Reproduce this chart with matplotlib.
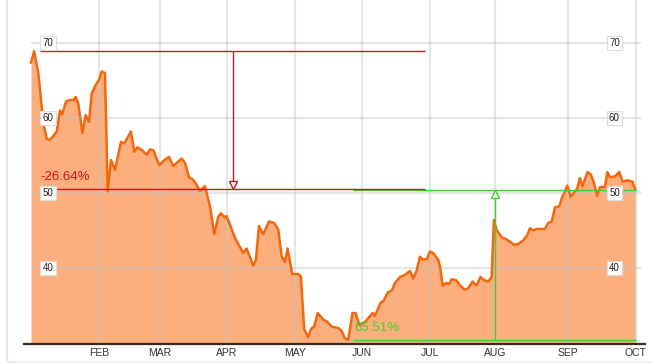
#
########################################################################
# Bibliotecas
########################################################################
#
import matplotlib
matplotlib.use("Agg")
from matplotlib import pyplot as plt
from matplotlib.lines import Line2D

plt.rcParams["font.family"] = ["Liberation Sans", "DejaVu Sans"]

#
########################################################################
# Dados (dia desde 1 de janeiro, preço)
########################################################################
#
Dias = [0, 1.4, 3.3, 5.6, 7.1, 8.6, 10.1, 11.6, 13.1, 14.1, 15.8, 17.6, 19.1,
        20.2, 21.3, 23.2, 24.7, 26.2, 27.4, 29.2, 30.7, 31.9, 33.4, 34.6, 36.1,
        37.9, 40.6, 42.1, 45.1, 46.6, 48.1, 50.2, 52.2, 53.7, 55.2, 57.9, 60.2,
        62.3, 64.2, 68.0, 69.5, 71.3, 73.0, 74.5, 76.3, 78.5, 80.8, 82.7, 84.5,
        85.7, 87.2, 88.3, 92.1, 95.8, 97.3, 100.3, 101.5, 102.9, 104.8, 107.4,
        109.8, 111.6, 113.1, 114.6, 115.8, 117.9, 120.6, 121.8, 123.3, 125.1,
        126.4, 127.8, 129.4, 131.9, 133.4, 135.7, 138.7, 140.2, 141.7, 143.2,
        145.1, 146.5, 148.2, 150.7, 152.7, 154.2, 155.2, 157.8, 159.0, 161.2,
        162.8, 164.3, 166.5, 168.8, 171.0, 172.5, 174.1, 175.5, 177.0, 178.6,
        180.1, 181.5, 183.8, 184.6, 185.8, 187.3, 188.8, 189.8, 191.8, 193.6,
        195.8, 197.3, 199.3, 200.8, 201.4, 202.9, 204.4, 206.4, 207.9, 208.9,
        210.1, 212.4, 214.7, 216.2, 218.0, 219.9, 222.2, 224.0, 225.2, 226.7,
        228.2, 231.9, 233.4, 235.0, 236.5, 238.4, 239.5, 241.0, 242.0, 243.5,
        245.5, 246.5, 247.7, 248.9, 251.2, 252.6, 254.1, 255.5, 256.8, 259.0,
        260.1, 261.3, 263.5, 265.5, 267.0, 269.1, 271.5, 272.7]
Precos = [67.4, 68.9, 66.0, 59.3, 57.2, 57.1, 57.6, 58.2, 61.0, 60.5, 62.2, 62.4,
          62.4, 62.8, 62.0, 58.0, 60.4, 59.5, 63.3, 64.4, 65.1, 66.2, 66.0, 50.2,
          54.4, 53.1, 56.8, 56.6, 58.2, 55.5, 56.1, 55.7, 55.1, 55.8, 55.7, 53.7,
          54.4, 54.8, 53.6, 54.6, 54.0, 52.1, 51.8, 51.2, 50.3, 50.9, 48.2, 44.5,
          46.8, 47.3, 46.8, 46.9, 44.0, 42.0, 42.6, 40.3, 41.1, 45.6, 44.5, 46.2,
          46.0, 45.1, 41.6, 40.8, 42.6, 39.2, 39.2, 38.9, 31.8, 30.8, 31.9, 32.2,
          34.0, 33.1, 32.9, 32.2, 32.0, 31.6, 30.6, 30.45, 34.0, 34.0, 32.4, 32.8,
          33.5, 34.0, 33.6, 35.4, 35.6, 36.8, 37.0, 38.0, 38.8, 39.1, 39.6, 38.6,
          39.7, 41.5, 41.1, 41.2, 42.2, 42.0, 41.1, 40.2, 37.6, 38.0, 37.9, 38.5,
          38.4, 37.7, 37.1, 37.3, 38.2, 37.7, 37.9, 38.8, 38.4, 38.2, 38.8, 46.4,
          45.1, 44.1, 43.8, 43.5, 43.1, 43.2, 43.7, 44.4, 45.3, 45.0, 45.2, 45.2,
          46.0, 46.2, 48.1, 48.2, 49.3, 50.2, 51.0, 49.5, 50.2, 50.6, 52.0, 50.9,
          52.8, 52.5, 51.3, 49.6, 50.8, 50.8, 52.8, 52.1, 52.2, 52.8, 51.5, 51.7,
          51.5, 50.45]

Meses = ["FEB", "MAR", "APR", "MAY", "JUN", "JUL", "AUG", "SEP", "OCT"]
PosMeses = [30.7, 58.2, 88.5, 119.1, 149.4, 180.1, 209.4, 242.3, 273.0]
Niveis = [40, 50, 60, 70]

# anotações de variação
Maximo, NivelQueda, TextoQueda = 68.9, 50.54, "-26.64%"
Minimo, NivelAlta, TextoAlta = 30.35, 50.40, "65.51%"

#
########################################################################
# Figura
########################################################################
#
Grafico = plt.figure(figsize=(6.52, 3.63), dpi=100)
ax = Grafico.add_axes([24 / 652, 19 / 363, 621 / 652, 344 / 363])
ax.set_xlim(-3.16, 277.1)
ax.set_ylim(29.87, 75.73)

CorLinha = "#f2680f"
CorArea = "#fdae7d"
CorVermelho = "#d4141c"
CorVerde = "#3fd12a"

ax.fill_between(Dias, Precos, 29.87, color=CorArea, lw=0, zorder=1)

# grade
for p in PosMeses:
    ax.axvline(p, color="#c6c6c6", lw=1.6, alpha=0.45, zorder=2)
for n in Niveis:
    ax.axhline(n, xmin=0.013, xmax=0.992, color="#c6c6c6", lw=1.6, alpha=0.45, zorder=2)

ax.plot(Dias, Precos, color=CorLinha, lw=1.8, zorder=3, solid_joinstyle="round")

# queda (vermelho)
ax.hlines([Maximo, NivelQueda], 4.1, 177.8, color=CorVermelho, lw=1.0, zorder=5)
ax.vlines(91.2, NivelQueda + 0.9, Maximo, color=CorVermelho, lw=1.0, zorder=5)
ax.plot([91.2], [NivelQueda + 0.5], marker="v", ms=6, mfc="white", mec=CorVermelho,
        mew=1.0, zorder=6)
ax.text(4.4, NivelQueda + 0.75, TextoQueda, color=CorVermelho, fontsize=9.5,
        ha="left", va="bottom", zorder=7)

# alta (verde)
ax.hlines([Minimo, NivelAlta], 145.3, 273.0, color=CorVerde, lw=1.0, zorder=4)
ax.vlines(209.4, Minimo, NivelAlta - 0.9, color=CorVerde, lw=1.0, zorder=4)
ax.plot([209.4], [NivelAlta - 0.5], marker="^", ms=6, mfc="white", mec=CorVerde,
        mew=1.0, zorder=6)
ax.text(145.8, Minimo + 0.8, TextoAlta, color=CorVerde, fontsize=9.5,
        ha="left", va="bottom", zorder=7)

# rótulos do eixo y em caixas
for n in Niveis:
    for xp in (7.6, 263.3):
        ax.text(xp, n, str(n), fontsize=7, color="#222222", ha="center", va="center",
                zorder=8, bbox=dict(boxstyle="square,pad=0.25", fc="white",
                                    ec="#dddddd", lw=0.8))

# eixo x
ax.set_xticks(PosMeses)
ax.set_xticklabels(Meses, fontsize=7.5, color="#333333")
ax.tick_params(axis="x", length=0, pad=3)
ax.set_yticks([])
for lado in ("left", "right", "top"):
    ax.spines[lado].set_visible(False)
ax.spines["bottom"].set_color("#3a2a1e")
ax.spines["bottom"].set_linewidth(1.6)
ax.spines["bottom"].set_zorder(9)

# moldura clara da página
Grafico.add_artist(Line2D([6.5 / 652, 6.5 / 652], [1.5 / 363, 1], color="#e4e4e4", lw=1.5))
Grafico.add_artist(Line2D([6.5 / 652, 1], [1.5 / 363, 1.5 / 363], color="#ececec", lw=1.5))

Grafico.savefig("out.png", dpi=100)
